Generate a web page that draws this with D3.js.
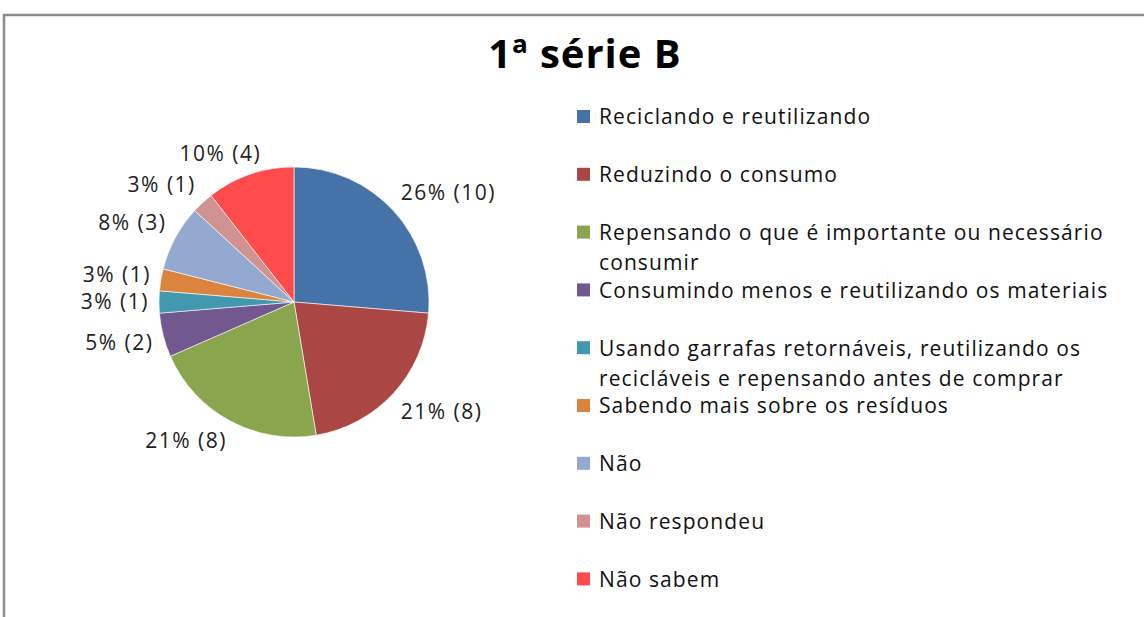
<!DOCTYPE html>
<html>
<head>
<meta charset="utf-8">
<script src="https://cdn.jsdelivr.net/npm/d3@7"></script>
<style>
  html, body { margin: 0; padding: 0; background: #fff; }
  svg { display: block; font-family: "Open Sans", Lato, sans-serif; }
</style>
</head>
<body>
<div id="chart"></div>
<script>
// categories and counts
const categories = [
  'Reciclando e reutilizando',
  'Reduzindo o consumo',
  'Repensando o que é importante ou necessário consumir',
  'Consumindo menos e reutilizando os materiais',
  'Usando garrafas retornáveis, reutilizando os recicláveis e repensando antes de comprar',
  'Sabendo mais sobre os resíduos',
  'Não',
  'Não respondeu',
  'Não sabem'
];
const counts = [10, 8, 8, 2, 1, 1, 3, 1, 4];
const percentLabels = ['26%', '21%', '21%', '5%', '3%', '3%', '8%', '3%', '10%'];
// how the legend wraps long names
const legendLines = [
  ['Reciclando e reutilizando'],
  ['Reduzindo o consumo'],
  ['Repensando o que é importante ou necessário', 'consumir'],
  ['Consumindo menos e reutilizando os materiais'],
  ['Usando garrafas retornáveis, reutilizando os', 'recicláveis e repensando antes de comprar'],
  ['Sabendo mais sobre os resíduos'],
  ['Não'],
  ['Não respondeu'],
  ['Não sabem']
];
const colors = ['#4572A7', '#AA4643', '#89A54E', '#71588F', '#4198AF', '#DB843D', '#93A9CF', '#D19392', '#FF4B4B'];
const title = '1ª série B';

const width = 1144, height = 617;
const cx = 294, cy = 302, radius = 135;

const svg = d3.select('#chart').append('svg')
  .attr('width', width)
  .attr('height', height);

// chart frame (only top and left edges show)
svg.append('path')
  .attr('d', `M4,${height} L4,15 L${width},15`)
  .attr('fill', 'none')
  .attr('stroke', '#8c8c8c')
  .attr('stroke-width', 2.5);

svg.append('text')
  .attr('x', 585)
  .attr('y', 68)
  .attr('text-anchor', 'middle')
  .attr('font-size', 40)
  .attr('font-weight', 'bold')
  .attr('letter-spacing', 1)
  .attr('fill', '#000')
  .text(title);

const data = categories.map((c, i) => ({ name: c, value: counts[i], pct: percentLabels[i] }));

const color = d3.scaleOrdinal().domain(categories).range(colors);

const pie = d3.pie().value(d => d.value).sort(null);
const arc = d3.arc().innerRadius(0).outerRadius(radius);
const edgeArc = d3.arc().innerRadius(radius + 10).outerRadius(radius + 10);

const g = svg.append('g').attr('transform', `translate(${cx},${cy})`);

const arcs = pie(data);

g.selectAll('path.slice')
  .data(arcs)
  .enter().append('path')
  .attr('class', 'slice')
  .attr('d', arc)
  .attr('fill', d => color(d.data.name))
  .attr('stroke', '#fff')
  .attr('stroke-width', 0.6);

// outside-end labels: the box is pushed off the pie edge like Excel's best fit
const clamp = v => Math.max(-1, Math.min(1, v));
g.selectAll('text.lbl')
  .data(arcs)
  .enter().append('text')
  .attr('class', 'lbl')
  .attr('text-anchor', 'middle')
  .attr('dy', '0.35em')
  .attr('font-size', 21)
  .attr('letter-spacing', 1.5)
  .attr('fill', '#222')
  .text(d => `${d.data.pct} (${d.data.value})`)
  .attr('transform', function (d) {
    const [px, py] = edgeArc.centroid(d);
    const a = (d.startAngle + d.endAngle) / 2;
    const w = this.getComputedTextLength(), h = 22;
    const x = px + (w / 2) * clamp(Math.sin(a) * 2);
    const y = py + (h / 2) * clamp(-Math.cos(a) * 2);
    return `translate(${x},${y})`;
  });

// legend
const legendX = 577, legendY0 = 117, legendStep = 57.8;
const legend = svg.append('g');
const items = legend.selectAll('g')
  .data(data)
  .enter().append('g')
  .attr('transform', (d, i) => `translate(${legendX},${legendY0 + i * legendStep})`);

items.append('rect')
  .attr('x', 0)
  .attr('y', -7)
  .attr('width', 13)
  .attr('height', 13)
  .attr('fill', d => color(d.name));

items.append('text')
  .attr('x', 22)
  .attr('y', 0)
  .attr('font-size', 21)
  .attr('letter-spacing', 1.1)
  .attr('fill', '#111')
  .selectAll('tspan')
  .data((d, i) => legendLines[i])
  .enter().append('tspan')
  .attr('x', 22)
  .attr('dy', (d, j) => j === 0 ? '0.35em' : 30)
  .text(d => d);
</script>
</body>
</html>
